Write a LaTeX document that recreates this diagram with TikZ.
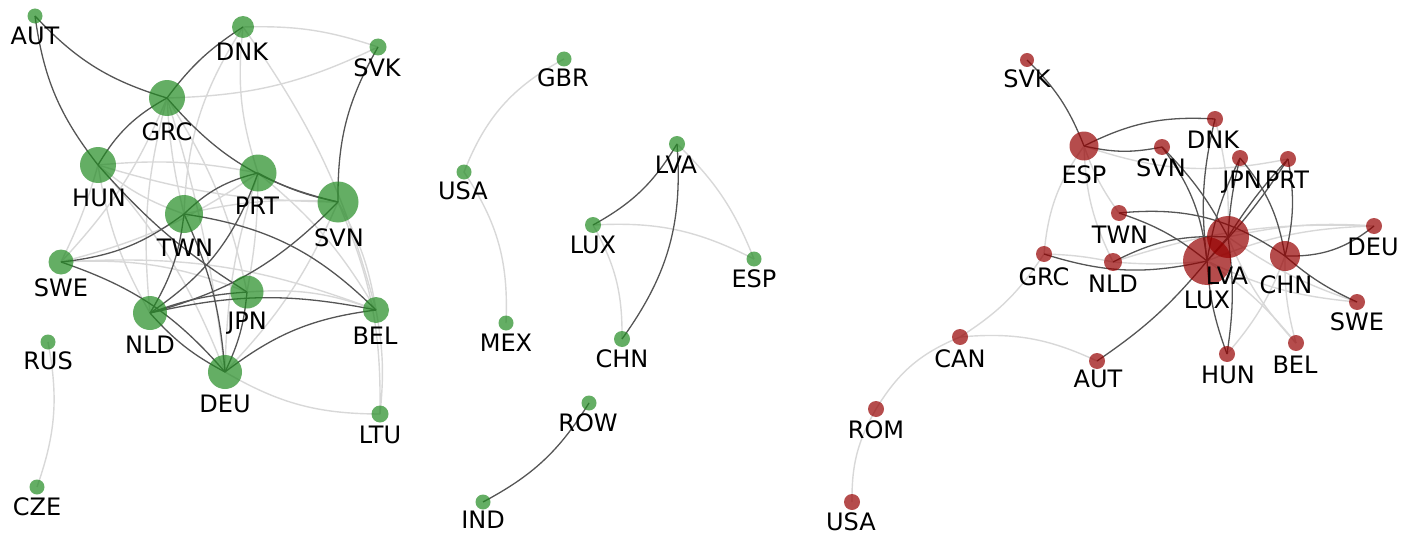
\documentclass[tikz,border=0pt]{standalone}
\usepackage{fontspec}
\setmainfont{DejaVu Sans}
\definecolor{ngreen}{RGB}{34,139,34}
\definecolor{nred}{RGB}{150,0,0}
\definecolor{dkedge}{RGB}{85,85,85}
\definecolor{ltedge}{RGB}{216,216,216}
\pgfdeclarelayer{bg}
\pgfsetlayers{bg,main}
\tikzset{
  gnode/.style={circle, fill=ngreen, fill opacity=0.7, draw=none, inner sep=0pt, minimum size=#1},
  rnode/.style={circle, fill=nred, fill opacity=0.7, draw=none, inner sep=0pt, minimum size=#1},
  lbl/.style={font=\fontsize{24}{28}\selectfont, anchor=base, inner sep=0pt, text=black},
  dk/.style={draw=dkedge, line width=1.3pt},
  lt/.style={draw=ltedge, line width=1.4pt},
}
\begin{document}
\begin{tikzpicture}[x=1pt,y=-1pt]
\useasboundingbox (0,0) rectangle (1413,535);
% ---------------- left cluster ----------------
\node[gnode=15pt] (gAUT) at (35,16) {};
\node[gnode=22pt] (gDNK) at (243,27) {};
\node[gnode=17pt] (gSVK) at (378,47) {};
\node[gnode=36pt] (gGRC) at (167,98) {};
\node[gnode=36pt] (gHUN) at (98,165) {};
\node[gnode=37pt] (gPRT) at (258,173) {};
\node[gnode=41pt] (gSVN) at (338,202) {};
\node[gnode=38pt] (gTWN) at (184,214) {};
\node[gnode=25pt] (gSWE) at (61,262) {};
\node[gnode=33pt] (gJPN) at (247,292) {};
\node[gnode=34pt] (gNLD) at (150,313) {};
\node[gnode=26pt] (gBEL) at (376,310) {};
\node[gnode=34pt] (gDEU) at (225,372) {};
\node[gnode=17pt] (gLTU) at (380,414) {};
\node[gnode=15pt] (gRUS) at (48,342) {};
\node[gnode=15pt] (gCZE) at (37,487) {};
% ---------------- middle cluster ----------------
\node[gnode=15pt] (mGBR) at (564,59) {};
\node[gnode=15pt] (mUSA) at (464,172) {};
\node[gnode=15pt] (mMEX) at (506,323) {};
\node[gnode=16pt] (mLVA) at (677,144) {};
\node[gnode=16pt] (mLUX) at (593,225) {};
\node[gnode=15pt] (mESP) at (754,259) {};
\node[gnode=16pt] (mCHN) at (622,339) {};
\node[gnode=15pt] (mROW) at (589,403) {};
\node[gnode=15pt] (mIND) at (483,502) {};
% ---------------- right cluster ----------------
\node[rnode=14pt] (rSVK) at (1027,60) {};
\node[rnode=29pt] (rESP) at (1084,146) {};
\node[rnode=16pt] (rDNK) at (1215,119) {};
\node[rnode=16pt] (rSVN) at (1162,147) {};
\node[rnode=16pt] (rJPN) at (1240,158) {};
\node[rnode=16pt] (rPRT) at (1288,159) {};
\node[rnode=16pt] (rTWN) at (1119,213) {};
\node[rnode=16pt] (rDEU) at (1374,226) {};
\node[rnode=16pt] (rGRC) at (1044,254) {};
\node[rnode=18pt] (rNLD) at (1113,262) {};
\node[rnode=42pt] (rLVA) at (1228,237) {};
\node[rnode=48pt] (rLUX) at (1207,261) {};
\node[rnode=30pt] (rCHN) at (1285,256) {};
\node[rnode=16pt] (rSWE) at (1357,302) {};
\node[rnode=16pt] (rBEL) at (1296,343) {};
\node[rnode=16pt] (rHUN) at (1227,354) {};
\node[rnode=16pt] (rAUT) at (1097,361) {};
\node[rnode=16pt] (rCAN) at (960,337) {};
\node[rnode=16pt] (rROM) at (876,409) {};
\node[rnode=16pt] (rUSA) at (852,502) {};
% ---------------- labels ----------------
\node[lbl] (lgAUT) at (35,45) {AUT};
\node[lbl] (lgDNK) at (242,60) {DNK};
\node[lbl] (lgSVK) at (377,77) {SVK};
\node[lbl] (lgGRC) at (167,140) {GRC};
\node[lbl] (lgHUN) at (99,206) {HUN};
\node[lbl] (lgPRT) at (257,214) {PRT};
\node[lbl] (lgSVN) at (339,246) {SVN};
\node[lbl] (lgTWN) at (185,256) {TWN};
\node[lbl] (lgSWE) at (61,296) {SWE};
\node[lbl] (lgJPN) at (247,329) {JPN};
\node[lbl] (lgNLD) at (150,353) {NLD};
\node[lbl] (lgBEL) at (375,344) {BEL};
\node[lbl] (lgDEU) at (225,412) {DEU};
\node[lbl] (lgLTU) at (380,443) {LTU};
\node[lbl] (lgRUS) at (48,369) {RUS};
\node[lbl] (lgCZE) at (37,515) {CZE};
\node[lbl] (lmGBR) at (563,86) {GBR};
\node[lbl] (lmUSA) at (463,199) {USA};
\node[lbl] (lmMEX) at (506,351) {MEX};
\node[lbl] (lmLVA) at (676,173) {LVA};
\node[lbl] (lmLUX) at (593,253) {LUX};
\node[lbl] (lmESP) at (754,287) {ESP};
\node[lbl] (lmCHN) at (622,367) {CHN};
\node[lbl] (lmROW) at (588,431) {ROW};
\node[lbl] (lmIND) at (483,528) {IND};
\node[lbl] (lrSVK) at (1027,88) {SVK};
\node[lbl] (lrESP) at (1084,183) {ESP};
\node[lbl] (lrDNK) at (1213,148) {DNK};
\node[lbl] (lrSVN) at (1161,176) {SVN};
\node[lbl] (lrJPN) at (1242,188) {JPN};
\node[lbl] (lrPRT) at (1287,188) {PRT};
\node[lbl] (lrTWN) at (1120,243) {TWN};
\node[lbl] (lrDEU) at (1373,255) {DEU};
\node[lbl] (lrGRC) at (1044,285) {GRC};
\node[lbl] (lrNLD) at (1113,292) {NLD};
\node[lbl] (lrLVA) at (1227,284) {LVA};
\node[lbl] (lrLUX) at (1207,308) {LUX};
\node[lbl] (lrCHN) at (1286,293) {CHN};
\node[lbl] (lrSWE) at (1357,330) {SWE};
\node[lbl] (lrBEL) at (1295,373) {BEL};
\node[lbl] (lrHUN) at (1228,383) {HUN};
\node[lbl] (lrAUT) at (1098,387) {AUT};
\node[lbl] (lrCAN) at (960,367) {CAN};
\node[lbl] (lrROM) at (876,438) {ROM};
\node[lbl] (lrUSA) at (851,530) {USA};
% ---------------- edges ----------------
\begin{pgfonlayer}{bg}
% left light
\draw[lt] (gDNK.center) to[bend left=10] (gSVK.center);
\draw[lt] (gGRC.center) to[bend right=12] (gSVK.center);
\draw[lt] (gDNK.center) to[bend right=15] (gTWN.center);
\draw[lt] (gDNK.center) to[bend right=12] (gPRT.center);
\draw[lt] (gDNK.center) to[bend left=10] (gBEL.center);
\draw[lt] (gGRC.center) to[bend right=5] (gTWN.center);
\draw[lt] (gGRC.center) to[bend left=10] (gJPN.center);
\draw[lt] (gGRC.center) to[bend right=10] (gNLD.center);
\draw[lt] (gGRC.center) to[bend left=5] (gDEU.center);
\draw[lt] (gSWE.center) to[bend right=10] (gGRC.center);
\draw[lt] (gHUN.center) to[bend left=5] (gSWE.center);
\draw[lt] (gHUN.center) to[bend right=10] (gNLD.center);
\draw[lt] (gHUN.center) to[bend left=8] (gPRT.center);
\draw[lt] (gHUN.center) to[bend right=8] (gSVN.center);
\draw[lt] (gHUN.center) to[bend left=10] (gDEU.center);
\draw[lt] (gHUN.center) to[bend right=10] (gTWN.center);
\draw[lt] (gTWN.center) to[bend left=8] (gSVN.center);
\draw[lt] (gSWE.center) to[bend left=12] (gJPN.center);
\draw[lt] (gSWE.center) to[bend left=12] (gBEL.center);
\draw[lt] (gSWE.center) to[bend right=10] (gPRT.center);
\draw[lt] (gPRT.center) to[bend left=5] (gJPN.center);
\draw[lt] (gPRT.center) to[bend right=8] (gDEU.center);
\draw[lt] (gPRT.center) to[bend left=10] (gBEL.center);
\draw[lt] (gSVN.center) to[bend left=10] (gBEL.center);
\draw[lt] (gSVN.center) to[bend left=12] (gLTU.center);
\draw[lt] (gBEL.center) to[bend left=8] (gLTU.center);
\draw[lt] (gSVN.center) to[bend left=10] (gDEU.center);
\draw[lt] (gDEU.center) to[bend right=15] (gLTU.center);
\draw[lt] (gJPN.center) to[bend left=12] (gBEL.center);
\draw[lt] (gRUS.center) to[bend left=15] (gCZE.center);
% left dark
\draw[dk] (gAUT.center) to[bend right=15] (gGRC.center);
\draw[dk] (gAUT.center) to[bend right=15] (gHUN.center);
\draw[dk] (gGRC.center) to[bend left=10] (gDNK.center);
\draw[dk] (gGRC.center) to[bend right=15] (gHUN.center);
\draw[dk] (gSVK.center) to[bend right=15] (gSVN.center);
\draw[dk] (gGRC.center) to[bend right=18] (gSVN.center);
\draw[dk] (gPRT.center) to[bend right=8] (gSVN.center);
\draw[dk] (gHUN.center) to[bend right=8] (gJPN.center);
\draw[dk] (gPRT.center) to[bend right=15] (gTWN.center);
\draw[dk] (gPRT.center) to[bend left=18] (gNLD.center);
\draw[dk] (gSWE.center) to[bend right=15] (gTWN.center);
\draw[dk] (gTWN.center) to[bend left=12] (gNLD.center);
\draw[dk] (gTWN.center) to[bend left=10] (gDEU.center);
\draw[dk] (gTWN.center) to[bend left=18] (gBEL.center);
\draw[dk] (gSWE.center) to[bend left=15] (gDEU.center);
\draw[dk] (gNLD.center) to[bend right=10] (gDEU.center);
\draw[dk] (gSVN.center) to[bend left=15] (gNLD.center);
\draw[dk] (gNLD.center) to[bend left=12] (gBEL.center);
\draw[dk] (gNLD.center) to[bend left=8] (gJPN.center);
\draw[dk] (gDEU.center) to[bend left=15] (gBEL.center);
\draw[dk] (gJPN.center) to[bend left=10] (gDEU.center);
% middle
\draw[lt] (mGBR.center) to[bend right=20] (mUSA.center);
\draw[lt] (mUSA.center) to[bend left=18] (mMEX.center);
\draw[lt] (mLUX.center) to[bend left=15] (mESP.center);
\draw[lt] (mLVA.center) to[bend left=12] (mESP.center);
\draw[lt] (mLUX.center) to[bend left=15] (mCHN.center);
\draw[dk] (mLVA.center) to[bend left=15] (mLUX.center);
\draw[dk] (mCHN.center) to[bend right=20] (mLVA.center);
\draw[dk] (mROW.center) to[bend left=15] (mIND.center);
% right light
\draw[lt] (rESP.center) to[bend right=15] (rGRC.center);
\draw[lt] (rESP.center) to[bend right=12] (rNLD.center);
\draw[lt] (rESP.center) to[bend right=8] (rTWN.center);
\draw[lt] (rESP.center) to[bend right=15] (rPRT.center);
\draw[lt] (rDNK.center) to[bend left=8] (rLVA.center);
\draw[lt] (rGRC.center) to[bend left=5] (rNLD.center);
\draw[lt] (rGRC.center) to[bend left=12] (rCAN.center);
\draw[lt] (rCAN.center) to[bend left=15] (rAUT.center);
\draw[lt] (rCAN.center) to[bend right=18] (rROM.center);
\draw[lt] (rROM.center) to[bend right=15] (rUSA.center);
\draw[lt] (rNLD.center) to[bend right=5] (rLUX.center);
\draw[lt] (rNLD.center) to[bend left=10] (rDEU.center);
\draw[lt] (rLVA.center) to[bend left=8] (rDEU.center);
\draw[lt] (rLUX.center) to[bend left=10] (rDEU.center);
\draw[lt] (rLVA.center) to[bend right=8] (rSWE.center);
\draw[lt] (rLUX.center) to[bend right=10] (rSWE.center);
\draw[lt] (rLVA.center) to[bend right=10] (rBEL.center);
\draw[lt] (rLUX.center) to[bend left=8] (rBEL.center);
\draw[lt] (rCHN.center) to[bend right=8] (rBEL.center);
\draw[lt] (rHUN.center) to[bend right=10] (rCHN.center);
% right dark
\draw[dk] (rSVK.center) to[bend left=12] (rESP.center);
\draw[dk] (rESP.center) to[bend left=15] (rDNK.center);
\draw[dk] (rESP.center) to[bend right=12] (rSVN.center);
\draw[dk] (rSVN.center) to[bend left=15] (rLUX.center);
\draw[dk] (rSVN.center) to[bend left=8] (rLVA.center);
\draw[dk] (rDNK.center) to[bend right=10] (rLUX.center);
\draw[dk] (rJPN.center) to[bend right=8] (rLUX.center);
\draw[dk] (rJPN.center) to[bend right=5] (rLVA.center);
\draw[dk] (rJPN.center) to[bend left=15] (rCHN.center);
\draw[dk] (rPRT.center) to[bend right=5] (rLVA.center);
\draw[dk] (rPRT.center) to[bend left=5] (rLUX.center);
\draw[dk] (rPRT.center) to[bend left=12] (rCHN.center);
\draw[dk] (rTWN.center) to[bend left=20] (rCHN.center);
\draw[dk] (rTWN.center) to[bend left=10] (rLUX.center);
\draw[dk] (rNLD.center) to[bend left=15] (rLVA.center);
\draw[dk] (rGRC.center) to[bend right=15] (rLUX.center);
\draw[dk] (rCHN.center) to[bend right=20] (rDEU.center);
\draw[dk] (rCHN.center) to[bend right=8] (rSWE.center);
\draw[dk] (rAUT.center) to[bend right=8] (rLUX.center);
\draw[dk] (rHUN.center) to[bend left=8] (rLUX.center);
\draw[dk] (rHUN.center) to[bend right=8] (rLVA.center);
\draw[dk] (rLVA.center) -- (rLUX.center);
\end{pgfonlayer}
\end{tikzpicture}
\end{document}
